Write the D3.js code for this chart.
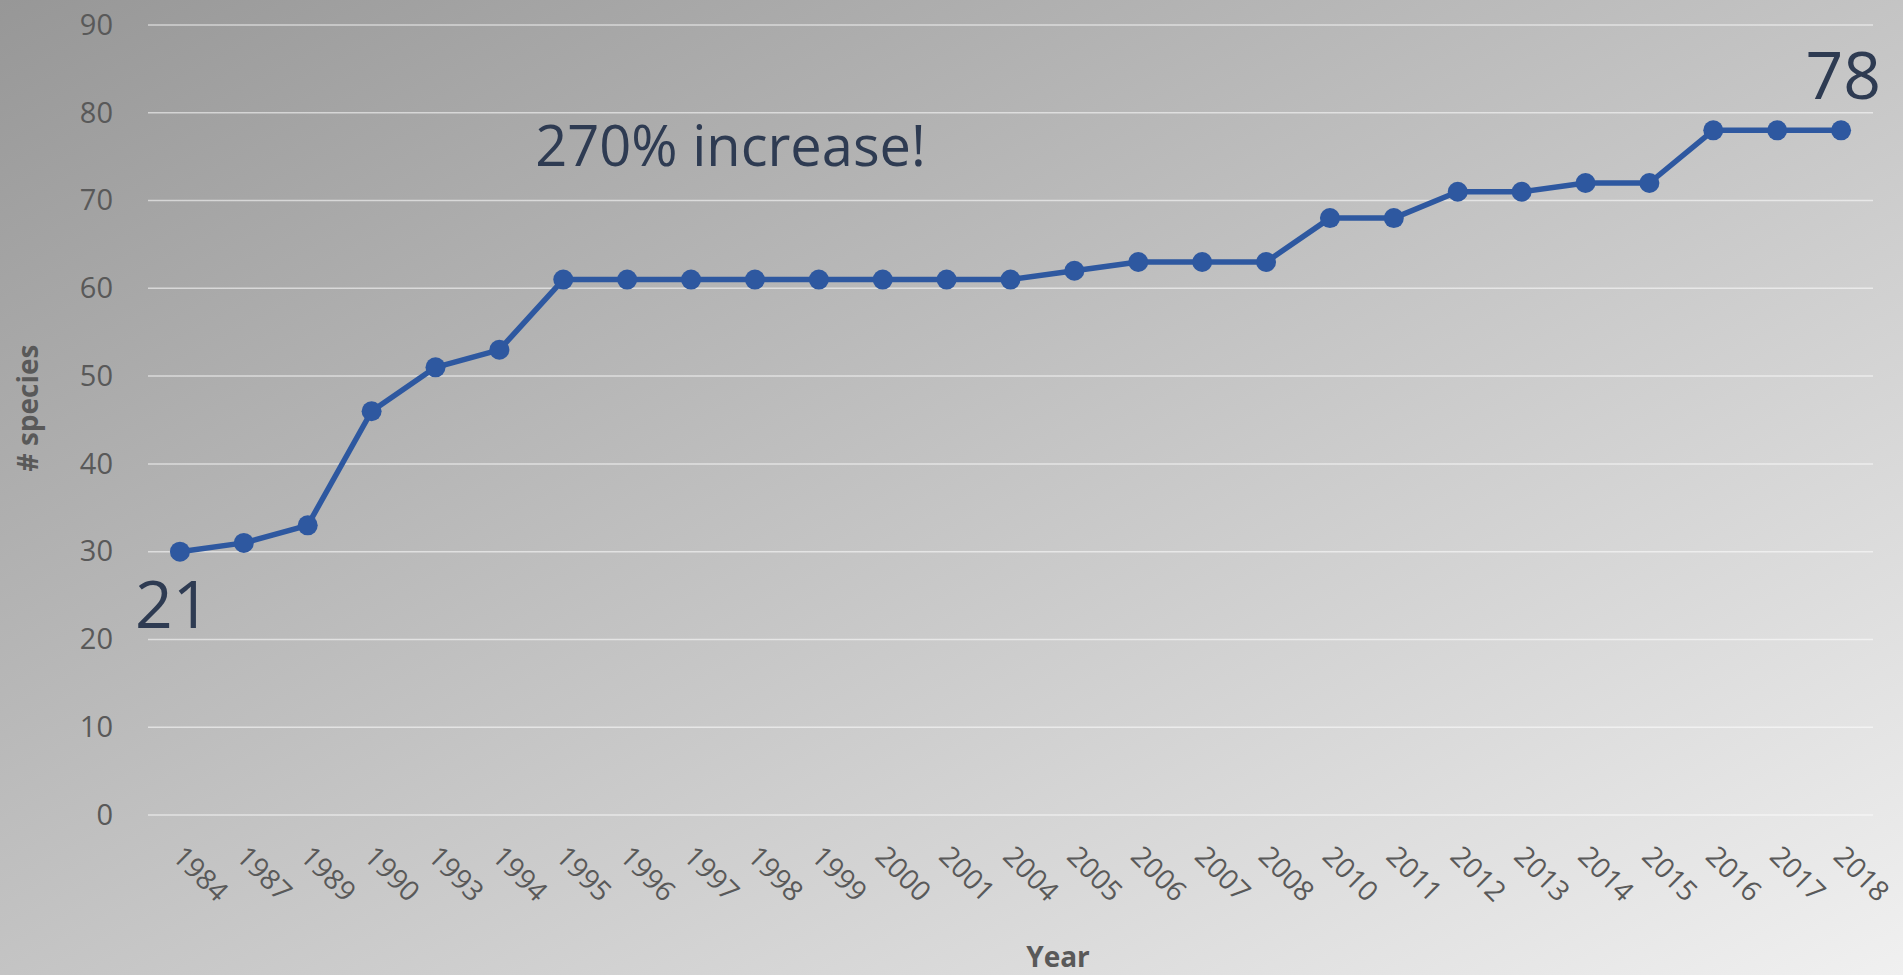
<!DOCTYPE html>
<html>
<head>
<meta charset="utf-8">
<script src="https://cdn.jsdelivr.net/npm/d3@7"></script>
<style>
  html, body { margin: 0; padding: 0; overflow: hidden; }
  svg { display: block; }
</style>
</head>
<body>
<div id="chart"></div>
<script>
"use strict";
(function() {

const WIDTH = 1903
const HEIGHT = 975

const margin = { top: 25, bottom: 160, left: 148, right: 30 }

const FONT = "'Open Sans', 'Noto Sans', sans-serif"
const LINE_COLOR = '#2E58A0'
const TEXT_COLOR = '#595959'
const NOTE_COLOR = '#2E3B52'

// data
const years = ['1984','1987','1989','1990','1993','1994','1995','1996','1997','1998',
    '1999','2000','2001','2004','2005','2006','2007','2008','2010','2011',
    '2012','2013','2014','2015','2016','2017','2018']
const species = [30, 31, 33, 46, 51, 53, 61, 61, 61, 61,
    61, 61, 61, 61, 62, 63, 63, 63, 68, 68,
    71, 71, 72, 72, 78, 78, 78]
const yTicks = [0, 10, 20, 30, 40, 50, 60, 70, 80, 90]
const notes = [
    { text: '21', year: '1984', value: 30 },
    { text: '78', year: '2018', value: 78 },
    { text: '270% increase!', year: '1995', value: 78 }
]

var svg = d3.select("#chart").append("svg")
    .attr("width", WIDTH)
    .attr("height", HEIGHT)

// background gradient
let grad = svg.append("defs").append("linearGradient")
    .attr("id", "bg")
    .attr("x1", "0%").attr("y1", "0%")
    .attr("x2", "100%").attr("y2", "100%")
grad.append("stop").attr("offset", "0%").attr("stop-color", "#979797")
grad.append("stop").attr("offset", "50%").attr("stop-color", "#c4c4c4")
grad.append("stop").attr("offset", "100%").attr("stop-color", "#f0f0f0")

svg.append("rect")
    .attr("width", WIDTH)
    .attr("height", HEIGHT)
    .attr("fill", "url(#bg)")

let x_scale = d3.scaleBand()
    .domain(years)
    .range([margin.left, 1873])

let y_scale = d3.scaleLinear()
    .domain([0, 90])
    .range([815, margin.top])

let xc = d => x_scale(d) + x_scale.bandwidth() / 2

// gridlines
svg.append("g")
    .selectAll("line")
    .data(yTicks)
    .join("line")
    .attr("x1", x_scale.range()[0])
    .attr("x2", x_scale.range()[1])
    .attr("y1", d => y_scale(d))
    .attr("y2", d => y_scale(d))
    .attr("stroke", "rgba(255,255,255,0.55)")
    .attr("stroke-width", 1.5)

// y axis
let yAxis = svg.append("g")
    .attr("transform", `translate(${x_scale.range()[0]},0)`)
    .call(d3.axisLeft(y_scale).tickValues(yTicks).tickSize(0).tickPadding(35))
yAxis.select(".domain").remove()
yAxis.selectAll("text")
    .attr("font-family", FONT)
    .attr("font-size", 29)
    .attr("fill", TEXT_COLOR)

// x axis labels, rotated
let xAxis = svg.append("g")
    .attr("transform", `translate(0, 815)`)
    .call(d3.axisBottom(x_scale).tickSize(0))
xAxis.select(".domain").remove()
xAxis.selectAll("text")
    .attr("font-family", FONT)
    .attr("font-size", 28)
    .attr("fill", TEXT_COLOR)
    .attr("text-anchor", "start")
    .attr("dy", 0)
    .attr("y", 0)
    .attr("transform", "translate(-9, 43) rotate(45)")

// axis titles
svg.append("text").text("Year")
    .attr("x", 1058)
    .attr("y", 967)
    .attr("text-anchor", "middle")
    .attr("font-family", FONT)
    .attr("font-weight", "bold")
    .attr("font-size", 28)
    .attr("fill", TEXT_COLOR)

svg.append("text").text("# species")
    .attr("transform", `translate(38, 408) rotate(-90)`)
    .attr("text-anchor", "middle")
    .attr("font-family", FONT)
    .attr("font-weight", "bold")
    .attr("font-size", 28)
    .attr("fill", TEXT_COLOR)

// line + markers
let line = d3.line()
    .x((d, i) => xc(years[i]))
    .y(d => y_scale(d))

svg.append("path")
    .datum(species)
    .attr("d", line)
    .attr("fill", "none")
    .attr("stroke", LINE_COLOR)
    .attr("stroke-width", 5.5)
    .attr("stroke-linejoin", "round")

svg.append("g")
    .selectAll("circle")
    .data(species)
    .join("circle")
    .attr("cx", (d, i) => xc(years[i]))
    .attr("cy", d => y_scale(d))
    .attr("r", 10)
    .attr("fill", LINE_COLOR)

// annotations
svg.append("text").text(notes[0].text)
    .attr("x", xc(notes[0].year) - 45)
    .attr("y", y_scale(notes[0].value) + 76)
    .attr("font-family", FONT)
    .attr("font-size", 66)
    .attr("fill", NOTE_COLOR)

svg.append("text").text(notes[1].text)
    .attr("x", xc(notes[1].year) + 40)
    .attr("y", y_scale(notes[1].value) - 31)
    .attr("text-anchor", "end")
    .attr("font-family", FONT)
    .attr("font-size", 66)
    .attr("fill", NOTE_COLOR)

svg.append("text").text(notes[2].text)
    .attr("x", xc(notes[2].year) - 28)
    .attr("y", y_scale(notes[2].value) + 36)
    .attr("font-family", FONT)
    .attr("font-size", 56)
    .attr("fill", NOTE_COLOR)

})();
</script>
</body>
</html>
